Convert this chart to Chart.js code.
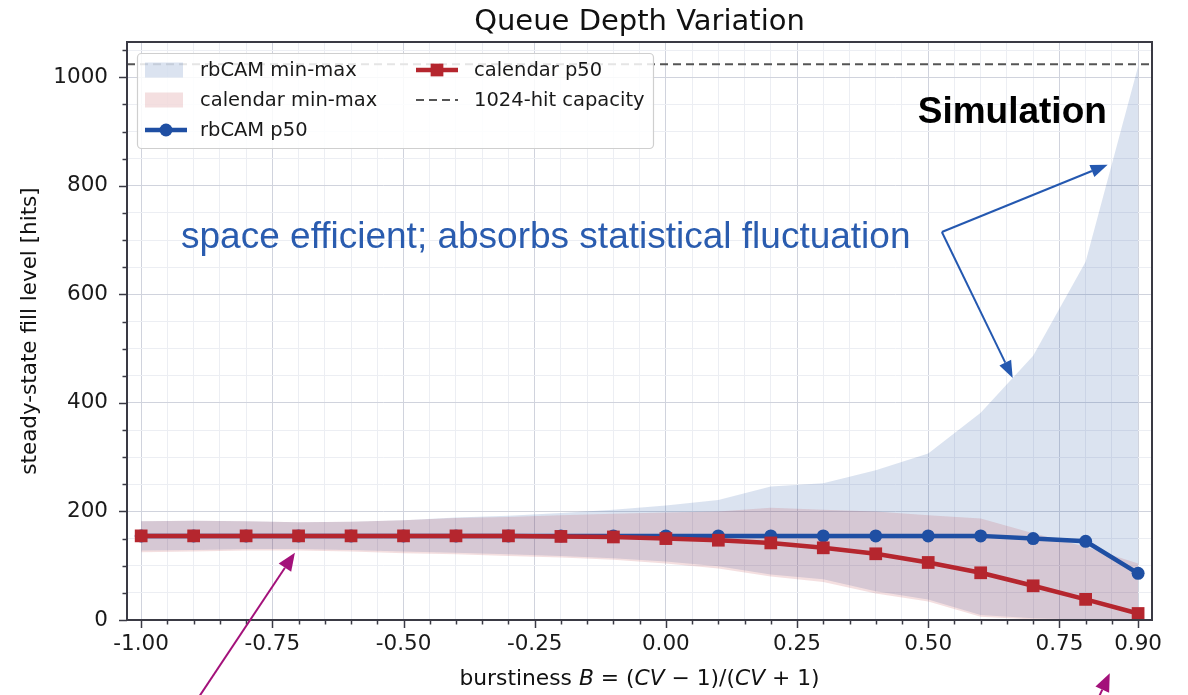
<!DOCTYPE html>
<html>
<head>
<meta charset="utf-8">
<script src="https://cdn.jsdelivr.net/npm/chart.js@4.4.1/dist/chart.umd.min.js"></script>
<style>
  html, body { margin: 0; padding: 0; background: #fff; }
</style>
</head>
<body>
<canvas id="chart" width="1188" height="695"></canvas>
<script>
// burstiness values (x) and the series
const X_VALUES = [-1.0, -0.9, -0.8, -0.7, -0.6, -0.5, -0.4, -0.3, -0.2, -0.1, 0.0, 0.1, 0.2, 0.3, 0.4, 0.5, 0.6, 0.7, 0.8, 0.9];
const RBCAM_P50 = [155, 155, 155, 155, 155, 155, 155, 155, 155, 155, 155, 155, 155, 155, 155, 155, 155, 150, 145, 86];
const CAL_P50   = [155, 155, 155, 155, 155, 155, 155, 155, 154, 153, 150, 147, 142, 133, 122, 106, 87, 63, 38, 12];
const RBCAM_MAX = [182, 183, 182, 180, 181, 184, 189, 192, 197, 203, 211, 221, 246, 252, 276, 307, 382, 487, 660, 1020];
const RBCAM_MIN = [128, 129, 131, 131, 129, 126, 124, 121, 118, 114, 108, 99, 84, 75, 53, 38, 9, 3, 1, 0];
const CAL_MAX   = [182, 183, 182, 180, 181, 184, 188, 190, 193, 196, 198, 200, 207, 203, 200, 193, 187, 160, 135, 104];
const CAL_MIN   = [125, 126, 128, 128, 126, 123, 121, 118, 115, 111, 104, 95, 80, 70, 49, 34, 6, 1, 0, 0];
const CAPACITY = 1024;

// axes
const X_MIN = -1.027, X_MAX = 0.9265;
const Y_MIN = 0, Y_MAX = 1065;
const X_MAJOR_TICKS = [-1.0, -0.75, -0.5, -0.25, 0.0, 0.25, 0.5, 0.75, 0.9];
const X_TICK_LABELS = ['-1.00', '-0.75', '-0.50', '-0.25', '0.00', '0.25', '0.50', '0.75', '0.90'];
const Y_MAJOR_TICKS = [0, 200, 400, 600, 800, 1000];
const X_MINOR_STEP = 0.05, Y_MINOR_STEP = 50;

const TITLE = 'Queue Depth Variation';
const X_TITLE = [['burstiness ', false], ['B', true], [' = (', false], ['CV', true], [' \u2212 1)/(', false], ['CV', true], [' + 1)', false]];
const Y_TITLE = 'steady-state fill level [hits]';
const NOTE_TEXT = 'space efficient; absorbs statistical fluctuation';
const NOTE_LABEL = 'Simulation';

const BLUE = '#1f4fa3';
const RED = '#b5262e';
const BLUE_BAND = 'rgba(31,79,163,0.16)';
const RED_BAND = 'rgba(181,38,46,0.15)';
const MAJOR_GRID = '#d0d3dd';
const MINOR_GRID = '#eceef3';
const AXIS_COL = '#3a3a44';
const FONT = '"DejaVu Sans", sans-serif';

const pts = ys => ys.map((v, i) => ({ x: X_VALUES[i], y: v }));
const near = (a, b) => Math.abs(a - b) < 1e-6;

const xTickValues = [];
for (let i = 0; i * X_MINOR_STEP <= X_MAX + 1.0 + 1e-9; i++) {
  const v = Math.round((-1.0 + i * X_MINOR_STEP) * 100) / 100;
  if (v <= X_MAX) xTickValues.push(v);
}
const yTickValues = [];
for (let v = 0; v <= Y_MAX; v += Y_MINOR_STEP) yTickValues.push(v);

const isMajorX = v => X_MAJOR_TICKS.some(t => near(t, v));
const isMajorY = v => Y_MAJOR_TICKS.includes(v);

function arrow(ctx, x0, y0, x1, y1, color, lw, hl, hw) {
  const ang = Math.atan2(y1 - y0, x1 - x0);
  const bx = x1 - hl * Math.cos(ang), by = y1 - hl * Math.sin(ang);
  ctx.strokeStyle = color; ctx.lineWidth = lw;
  ctx.beginPath(); ctx.moveTo(x0, y0); ctx.lineTo(bx, by); ctx.stroke();
  ctx.fillStyle = color;
  ctx.beginPath();
  ctx.moveTo(x1, y1);
  ctx.lineTo(bx + hw / 2 * Math.sin(ang), by - hw / 2 * Math.cos(ang));
  ctx.lineTo(bx - hw / 2 * Math.sin(ang), by + hw / 2 * Math.cos(ang));
  ctx.closePath(); ctx.fill();
}

const overlay = {
  id: 'overlay',
  afterDraw(chart) {
    const { ctx, chartArea: a, scales: { x, y } } = chart;
    const ds = chart.data.datasets;
    ctx.save();

    // tick marks
    ctx.strokeStyle = AXIS_COL; ctx.lineWidth = 1.5;
    yTickValues.forEach(v => {
      const py = Math.round(y.getPixelForValue(v)) + 0.5;
      const len = isMajorY(v) ? 8 : 4.5;
      ctx.beginPath(); ctx.moveTo(a.left - len, py); ctx.lineTo(a.left, py); ctx.stroke();
    });
    xTickValues.forEach(v => {
      const px = Math.round(x.getPixelForValue(v)) + 0.5;
      const len = isMajorX(v) ? 8 : 4.5;
      ctx.beginPath(); ctx.moveTo(px, a.bottom); ctx.lineTo(px, a.bottom + len); ctx.stroke();
    });

    // frame
    ctx.lineWidth = 2;
    ctx.strokeRect(a.left, a.top, a.right - a.left, a.bottom - a.top);

    // title
    ctx.fillStyle = '#111';
    ctx.font = '29px ' + FONT;
    ctx.textAlign = 'center'; ctx.textBaseline = 'alphabetic';
    ctx.fillText(TITLE, (a.left + a.right) / 2, 30);

    // y title
    ctx.save();
    ctx.translate(30, (a.top + a.bottom) / 2);
    ctx.rotate(-Math.PI / 2);
    ctx.font = '21.5px ' + FONT;
    ctx.textBaseline = 'middle';
    ctx.fillText(Y_TITLE, 0, 0);
    ctx.restore();

    // x title with italic symbols
    ctx.textAlign = 'left'; ctx.textBaseline = 'middle';
    const fontFor = it => (it ? 'italic ' : '') + '21.8px ' + FONT;
    let total = 0;
    X_TITLE.forEach(([t, it]) => { ctx.font = fontFor(it); total += ctx.measureText(t).width; });
    let tx = (a.left + a.right) / 2 - total / 2;
    X_TITLE.forEach(([t, it]) => { ctx.font = fontFor(it); ctx.fillText(t, tx, 679); tx += ctx.measureText(t).width; });

    // legend
    const L = { left: 137, top: 53, right: 653, bottom: 148 };
    ctx.fillStyle = 'rgba(255,255,255,0.85)';
    ctx.strokeStyle = '#cfcfcf'; ctx.lineWidth = 1.2;
    ctx.beginPath();
    ctx.roundRect(L.left + 0.5, L.top + 0.5, L.right - L.left, L.bottom - L.top, 4);
    ctx.fill(); ctx.stroke();
    const items = [[0, 0, 0], [2, 0, 1], [4, 0, 2], [5, 1, 0], [6, 1, 1]];
    const symX = [145, 416], txtX = [200, 474], rowY = [70, 100, 130];
    ctx.font = '19.5px ' + FONT;
    items.forEach(([di, c, r]) => {
      const d = ds[di];
      const sx = symX[c], sy = rowY[r];
      if (d.fill) {
        ctx.fillStyle = d.backgroundColor;
        ctx.fillRect(sx, sy - 7.5, 38, 15);
      } else {
        ctx.strokeStyle = d.borderColor; ctx.lineWidth = d.borderWidth;
        ctx.setLineDash(d.borderDash || []);
        ctx.beginPath(); ctx.moveTo(sx, sy); ctx.lineTo(sx + 42, sy); ctx.stroke();
        ctx.setLineDash([]);
        if (d.pointRadius > 0) {
          ctx.fillStyle = d.borderColor;
          if (d.pointStyle === 'rect') {
            const s = d.pointRadius * Math.SQRT1_2;
            ctx.fillRect(sx + 21 - s, sy - s, 2 * s, 2 * s);
          } else {
            ctx.beginPath(); ctx.arc(sx + 21, sy, d.pointRadius, 0, Math.PI * 2); ctx.fill();
          }
        }
      }
      ctx.fillStyle = '#1a1a1a';
      ctx.textBaseline = 'middle'; ctx.textAlign = 'left';
      ctx.fillText(d.label, txtX[c], sy + 1);
    });

    // annotations
    const p = (vx, vy) => [x.getPixelForValue(vx), y.getPixelForValue(vy)];
    const [nx, ny] = p(-0.924, 686);
    ctx.fillStyle = '#2a5caf';
    ctx.font = '37px "Liberation Sans", Arial, sans-serif';
    ctx.textBaseline = 'alphabetic';
    ctx.fillText(NOTE_TEXT, nx, ny);
    const [sx, sy] = p(0.48, 915);
    ctx.fillStyle = '#000';
    ctx.font = 'bold 37px "Liberation Sans", Arial, sans-serif';
    ctx.fillText(NOTE_LABEL, sx, sy);

    const [ax0, ay0] = p(0.526, 715);
    const [ax1, ay1] = p(0.842, 839);
    const [ax2, ay2] = p(0.661, 446);
    arrow(ctx, ax0, ay0, ax1, ay1, '#2458b0', 2, 17, 13);
    arrow(ctx, ax0, ay0, ax2, ay2, '#2458b0', 2, 17, 13);

    const [m0x, m0y] = p(-0.93, -200);
    const [m1x, m1y] = p(-0.707, 124);
    arrow(ctx, m0x, m0y, m1x, m1y, '#a3117a', 2, 18, 15);
    const [m2x, m2y] = p(0.812, -170);
    const [m3x, m3y] = p(0.846, -98);
    arrow(ctx, m2x, m2y, m3x, m3y, '#a3117a', 2, 18, 15);

    ctx.restore();
  }
};

const ctx = document.getElementById('chart').getContext('2d');
new Chart(ctx, {
  type: 'line',
  data: {
    datasets: [
      { label: 'rbCAM min-max', data: pts(RBCAM_MAX), fill: '+1', backgroundColor: BLUE_BAND,
        borderColor: 'rgba(0,0,0,0)', borderWidth: 0, pointRadius: 0, order: 5 },
      { label: 'rbCAM min', data: pts(RBCAM_MIN), fill: false,
        borderColor: 'rgba(0,0,0,0)', borderWidth: 0, pointRadius: 0, order: 5 },
      { label: 'calendar min-max', data: pts(CAL_MAX), fill: '+1', backgroundColor: RED_BAND,
        borderColor: 'rgba(0,0,0,0)', borderWidth: 0, pointRadius: 0, order: 4 },
      { label: 'calendar min', data: pts(CAL_MIN), fill: false,
        borderColor: 'rgba(0,0,0,0)', borderWidth: 0, pointRadius: 0, order: 4 },
      { label: 'rbCAM p50', data: pts(RBCAM_P50), fill: false, borderColor: BLUE, backgroundColor: BLUE,
        borderWidth: 4.5, pointStyle: 'circle', pointRadius: 6.5, pointBorderWidth: 0, order: 2 },
      { label: 'calendar p50', data: pts(CAL_P50), fill: false, borderColor: RED, backgroundColor: RED,
        borderWidth: 4.5, pointStyle: 'rect', pointRadius: 9, pointBorderWidth: 0, order: 1 },
      { label: '1024-hit capacity', data: [{ x: X_MIN, y: CAPACITY }, { x: X_MAX, y: CAPACITY }], fill: false,
        borderColor: '#555555', borderWidth: 1.8, borderDash: [8, 5], pointRadius: 0, order: 3 }
    ]
  },
  options: {
    responsive: false,
    animation: false,
    devicePixelRatio: 1,
    events: [],
    layout: { padding: { top: 42, right: 36, left: 0, bottom: 0 } },
    plugins: {
      legend: { display: false },
      title: { display: false },
      tooltip: { enabled: false }
    },
    elements: { line: { tension: 0 } },
    scales: {
      x: {
        type: 'linear', min: X_MIN, max: X_MAX,
        afterBuildTicks: s => { s.ticks = xTickValues.map(v => ({ value: v })); },
        afterFit: s => { s.height = 75; },
        ticks: {
          autoSkip: false, maxRotation: 0, padding: 12, color: '#1a1a1a',
          font: { family: FONT, size: 21.5 },
          callback: v => {
            const i = X_MAJOR_TICKS.findIndex(t => near(t, v));
            return i >= 0 ? X_TICK_LABELS[i] : '';
          }
        },
        grid: { drawTicks: false, lineWidth: 1, color: c => isMajorX(c.tick.value) ? MAJOR_GRID : MINOR_GRID },
        border: { display: false }
      },
      y: {
        type: 'linear', min: Y_MIN, max: Y_MAX,
        afterBuildTicks: s => { s.ticks = yTickValues.map(v => ({ value: v })); },
        afterFit: s => { s.width = 127; },
        ticks: {
          autoSkip: false, padding: 19, color: '#1a1a1a',
          font: { family: FONT, size: 21.5 },
          callback: v => isMajorY(v) ? String(v) : ''
        },
        grid: { drawTicks: false, lineWidth: 1, color: c => isMajorY(c.tick.value) ? MAJOR_GRID : MINOR_GRID },
        border: { display: false }
      }
    }
  },
  plugins: [overlay]
});
</script>
</body>
</html>
